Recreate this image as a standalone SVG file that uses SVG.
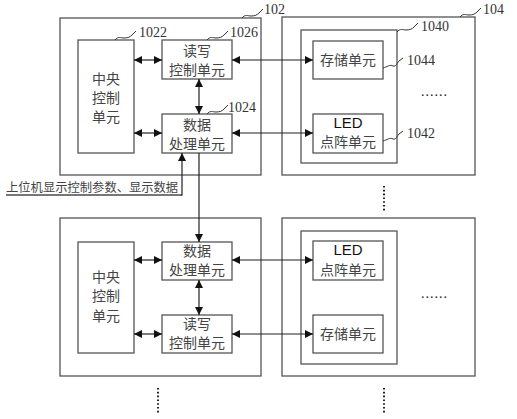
<svg xmlns="http://www.w3.org/2000/svg" width="517" height="419" viewBox="0 0 517 419">
<defs>
<marker id="ah" viewBox="0 0 10 10" refX="10" refY="5" markerWidth="8" markerHeight="8" markerUnits="userSpaceOnUse" orient="auto-start-reverse">
<path d="M0,0 L10,5 L0,10 Z" fill="#111"/>
</marker>
<style>
.box{fill:#fff;stroke:#555;stroke-width:1.3}
.cn{font-family:"Noto Sans CJK SC","Liberation Serif",serif;font-size:14px;fill:#444;text-anchor:middle}
.led{font-family:"Liberation Sans",Arial,sans-serif;font-size:15px;fill:#111;text-anchor:middle}
.num{font-family:"Liberation Serif","Times New Roman",serif;font-size:14px;fill:#333}
.dots{font-family:"Liberation Serif","Times New Roman",serif;font-size:14px;fill:#222;letter-spacing:1px}
.ln{fill:none;stroke:#222;stroke-width:1.2}
.bi{marker-start:url(#ah);marker-end:url(#ah)}
.one{marker-end:url(#ah)}
.sq{fill:none;stroke:#333;stroke-width:1}
.dot{fill:none;stroke:#222;stroke-width:2;stroke-dasharray:1.6,2.2}
</style>
</defs>
<rect width="517" height="419" fill="#fff"/>

<!-- top controller 102 -->
<g id="n102">
<rect class="box" x="60" y="18" width="201" height="157"/>
<path class="sq" d="M242,18 c3,-4 6,-2 9,-2 c4,0 6,-1 8,-3 l4,-4"/>
<text class="num" x="264" y="14">102</text>
</g>
<g id="n1022">
<rect class="box" x="78" y="40" width="56" height="113"/>
<text class="cn" x="106" y="84">中央</text>
<text class="cn" x="106" y="103">控制</text>
<text class="cn" x="106" y="122">单元</text>
<path class="sq" d="M115,40 c3,-4 6,-2 9,-2 c4,0 6,-1 8,-3 l4,-4"/>
<text class="num" x="139" y="37">1022</text>
</g>
<g id="n1026">
<rect class="box" x="162" y="40" width="70" height="39"/>
<text class="cn" x="197" y="56">读写</text>
<text class="cn" x="197" y="75">控制单元</text>
<path class="sq" d="M207,40 c3,-4 6,-2 9,-2 c4,0 6,-1 8,-3 l4,-4"/>
<text class="num" x="230" y="37">1026</text>
</g>
<g id="n1024">
<rect class="box" x="162" y="114" width="70" height="39"/>
<text class="cn" x="197" y="130">数据</text>
<text class="cn" x="197" y="149">处理单元</text>
<path class="sq" d="M207,114 c3,-4 6,-2 9,-2 c4,0 6,-1 8,-3 l4,-4"/>
<text class="num" x="228" y="112">1024</text>
</g>

<!-- top display 104 -->
<g id="n104">
<rect class="box" x="282" y="17" width="193" height="158"/>
<path class="sq" d="M460,17 c3,-4 6,-2 9,-2 c4,0 6,-1 8,-3 l4,-4"/>
<text class="num" x="483" y="14">104</text>
<text class="dots" x="421" y="96">......</text>
</g>
<g id="n1040">
<rect class="box" x="301" y="30" width="96" height="133"/>
<path class="sq" d="M397,32 c3,-4 6,-2 9,-2 c4,0 6,-1 8,-3 l4,-4"/>
<text class="num" x="421" y="31">1040</text>
</g>
<g id="n1044">
<rect class="box" x="313" y="41" width="70" height="38"/>
<text class="cn" x="348" y="65">存储单元</text>
<path class="sq" d="M383,68 c4,-1 7,-4 10,-2 c3,1 4,-3 6,-5 l4,-3"/>
<text class="num" x="407" y="65">1044</text>
</g>
<g id="n1042">
<rect class="box" x="313" y="114" width="70" height="39"/>
<text class="led" x="348" y="128">LED</text>
<text class="cn" x="348" y="147">点阵单元</text>
<path class="sq" d="M383,141 c4,-1 7,-4 10,-2 c3,1 4,-3 6,-5 l4,-3"/>
<text class="num" x="407" y="138">1042</text>
</g>

<!-- bottom controller -->
<g id="nb102">
<rect class="box" x="60" y="218" width="201" height="158"/>
</g>
<g id="nb1022">
<rect class="box" x="78" y="242" width="56" height="111"/>
<text class="cn" x="106" y="282">中央</text>
<text class="cn" x="106" y="301">控制</text>
<text class="cn" x="106" y="321">单元</text>
</g>
<g id="nb1024">
<rect class="box" x="162" y="242" width="70" height="38"/>
<text class="cn" x="197" y="256">数据</text>
<text class="cn" x="197" y="275">处理单元</text>
</g>
<g id="nb1026">
<rect class="box" x="162" y="315" width="70" height="38"/>
<text class="cn" x="197" y="329">读写</text>
<text class="cn" x="197" y="348">控制单元</text>
</g>

<!-- bottom display -->
<g id="nb104">
<rect class="box" x="282" y="218" width="193" height="158"/>
<text class="dots" x="421" y="298">......</text>
</g>
<g id="nb1040">
<rect class="box" x="301" y="231" width="96" height="133"/>
</g>
<g id="nb1042">
<rect class="box" x="313" y="241" width="70" height="39"/>
<text class="led" x="348" y="255">LED</text>
<text class="cn" x="348" y="275">点阵单元</text>
</g>
<g id="nb1044">
<rect class="box" x="313" y="315" width="70" height="38"/>
<text class="cn" x="348" y="339">存储单元</text>
</g>

<!-- host input label -->
<g id="host">
<text x="6" y="192" style="font-family:'Noto Sans CJK SC','Liberation Serif',serif;font-size:12.3px;fill:#444">上位机显示控制参数、显示数据</text>
</g>

<!-- connectors -->
<g id="connectors">
<line class="ln bi" x1="134" y1="60" x2="162" y2="60"/>
<line class="ln bi" x1="134" y1="133" x2="162" y2="133"/>
<line class="ln bi" x1="199" y1="79" x2="199" y2="114"/>
<line class="ln bi" x1="232" y1="60" x2="313" y2="60"/>
<line class="ln bi" x1="232" y1="133" x2="313" y2="133"/>
<polyline class="ln" points="6,195 182,195" style="stroke:#777;stroke-width:2"/>
<polyline class="ln one" points="181,195 182,195 182,153"/>
<line class="ln one" x1="199" y1="153" x2="199" y2="242"/>
<line class="ln bi" x1="134" y1="260" x2="162" y2="260"/>
<line class="ln bi" x1="134" y1="334" x2="162" y2="334"/>
<line class="ln bi" x1="199" y1="280" x2="199" y2="315"/>
<line class="ln bi" x1="232" y1="260" x2="313" y2="260"/>
<line class="ln bi" x1="232" y1="334" x2="313" y2="334"/>
</g>

<!-- vertical continuation dots -->
<line class="dot" x1="384" y1="186" x2="384" y2="211"/>
<line class="dot" x1="384" y1="388" x2="384" y2="413"/>
<line class="dot" x1="158" y1="388" x2="158" y2="413"/>
</svg>
